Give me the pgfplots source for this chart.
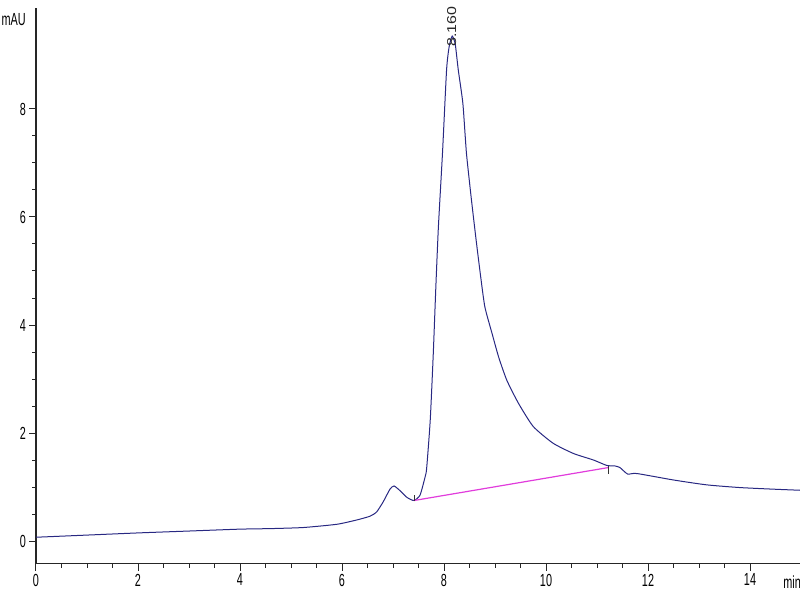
\documentclass[border=0pt]{standalone}
\usepackage{fontspec}
\setmainfont{Liberation Sans}
\newfontfamily\cf{Liberation Sans}[FakeStretch=0.62]
\usepackage{graphicx}
\usepackage{pgfplots}
\pgfplotsset{compat=1.18}

\definecolor{trace}{RGB}{40,40,130}
\definecolor{basel}{RGB}{225,60,220}

\begin{document}
\begin{tikzpicture}
\begin{axis}[
  name=ax,
  scale only axis,
  width=764pt, height=555.7pt,
  xmin=0, xmax=14.98,
  ymin=-0.42, ymax=9.87,
  axis lines*=left,
  axis line style={line width=1.3pt, black!85},
  xtick={0,2,...,14},
  ytick={0,2,...,8},
  minor x tick num=3,
  minor y tick num=3,
  tick align=outside,
  major tick length=7pt,
  minor tick length=4pt,
  tick style={line width=1pt, black!85},
  /pgf/number format/assume math mode=true,
  tick label style={font=\cf\fontsize{17.5}{17.5}\selectfont},
  xticklabel style={inner sep=3pt},
  yticklabel style={inner sep=3pt},
  clip=false,
]
% chromatogram trace
\addplot[trace, line width=1pt, smooth, tension=0.35] coordinates {
  (0,0.07) (1,0.11) (2,0.15) (3,0.185) (4,0.22) (4.6,0.23)
  (5.24,0.25) (5.9,0.31) (6.29,0.39) (6.55,0.46) (6.68,0.54)
  (6.81,0.73) (6.94,0.96) (7.02,1.02) (7.14,0.93) (7.27,0.81)
  (7.41,0.75) (7.53,0.85) (7.63,1.19) (7.66,1.35) (7.73,2.24)
  (7.79,3.48) (7.84,4.71) (7.89,5.82) (7.97,7.18) (8.05,8.72)
  (8.10,9.15) (8.16,9.35) (8.22,9.2) (8.28,8.72) (8.37,8.1)
  (8.44,7.18) (8.54,6.3) (8.63,5.57) (8.71,4.96) (8.80,4.34)
  (8.94,3.85) (9.07,3.41) (9.23,2.98) (9.46,2.55) (9.75,2.12)
  (10.14,1.81) (10.54,1.62) (10.93,1.50) (11.19,1.40)
  (11.35,1.39) (11.45,1.36) (11.6,1.24)
  (11.78,1.25) (12.5,1.13) (13.15,1.04) (13.8,0.99) (14.46,0.96)
  (14.98,0.94)
};
% integration baseline
\addplot[basel, line width=1.2pt] coordinates {(7.41,0.75) (11.22,1.36)};
% start / end marks
\addplot[black!80, line width=0.8pt] coordinates {(7.41,0.75) (7.41,0.85)};
\addplot[black!80, line width=0.8pt] coordinates {(11.22,1.39) (11.22,1.24)};

\node[anchor=east, inner sep=0pt, font=\cf\fontsize{17.5}{17.5}\selectfont]
  at ([xshift=-10pt]axis cs:0,9.65) {mAU};
\node[anchor=base west, inner sep=0pt, font=\cf\fontsize{17.5}{17.5}\selectfont]
  at ([yshift=-25pt]axis cs:14.65,-0.42) {min};
\node[rotate=90, anchor=west, inner sep=0pt, text=black!85]
  at (axis cs:8.15,9.15) {\resizebox{40pt}{9pt}{8.160}};
\end{axis}
\pgfresetboundingbox
\useasboundingbox ([xshift=-36pt,yshift=-37pt]ax.south west) rectangle ([yshift=8pt]ax.north east);
\end{tikzpicture}
\end{document}
